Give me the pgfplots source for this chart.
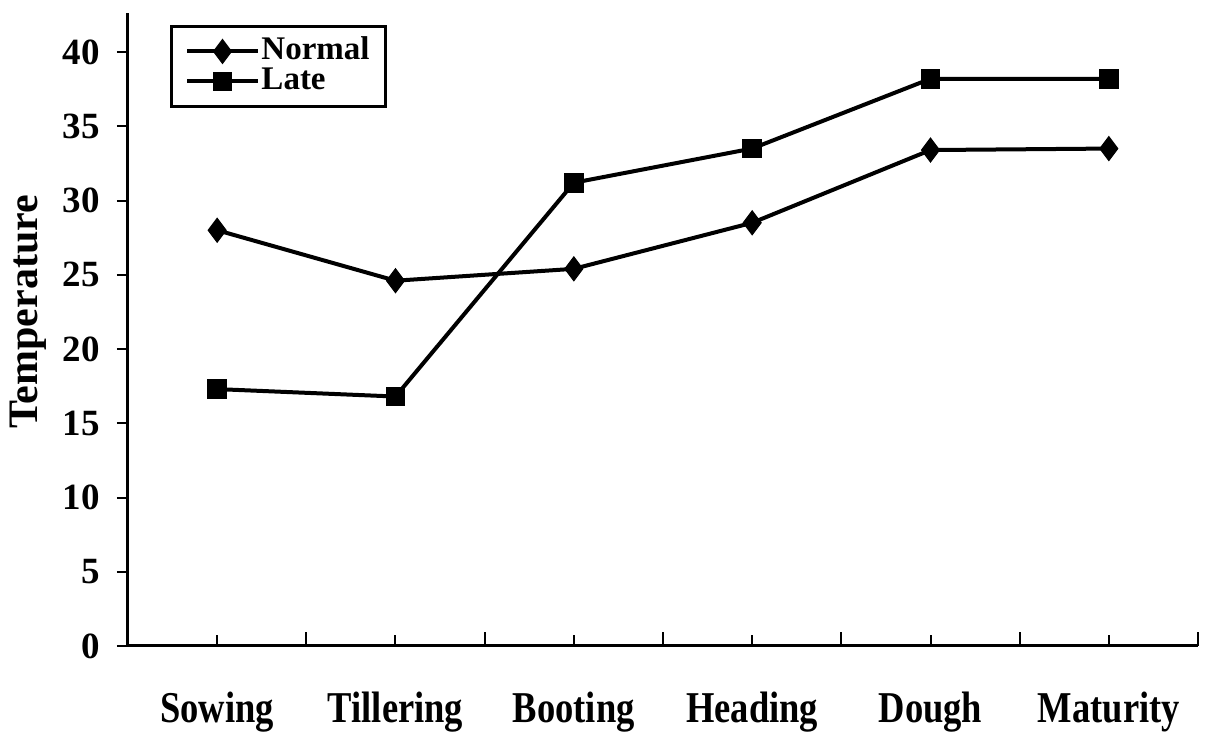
\documentclass[border=0pt]{standalone}
\usepackage{fontspec}
\setmainfont{Liberation Serif}
\newfontfamily\condfont[FakeStretch=0.83]{Liberation Serif}
\usepackage{pgfplots}
\pgfplotsset{compat=1.18}
\begin{document}
\begin{tikzpicture}
\useasboundingbox (-64pt,-43pt) rectangle (539pt,323pt);
\begin{axis}[
    at={(0pt,0pt)}, anchor=south west,
    scale only axis,
    width=535pt, height=316.5pt,
    xmin=-0.5, xmax=5.5,
    ymin=0, ymax=42.63,
    axis x line=bottom, axis y line=left,
    axis line style={-, line width=1.5pt},
    xtick={0,1,2,3,4,5},
    xticklabels={Sowing,Tillering,Booting,Heading,Dough,Maturity},
    extra x ticks={-0.5,0.5,1.5,2.5,3.5,4.5,5.5},
    extra x tick labels={},
    extra x tick style={major tick length=7pt},
    ytick={0,5,...,40},
    tick align=inside,
    major tick length=5.5pt,
    tick style={line width=1pt, black},
    ytick style={xshift=-5.5pt},
    /pgf/number format/assume math mode=true,
    yticklabel style={font=\bfseries\fontsize{18.5}{20}\selectfont, inner sep=0pt, xshift=-14pt},
    xticklabel style={font=\condfont\bfseries\fontsize{22}{24}\selectfont, anchor=base, yshift=-38.5pt},
    ylabel={Temperature},
    ylabel style={font=\bfseries\fontsize{21}{24}\selectfont, at={(axis description cs:-0.0935,0.528)}, anchor=center, rotate=0},
    legend style={at={(axis description cs:0,1)}, anchor=north west, xshift=21pt, yshift=-6pt,
        draw=black, line width=1.5pt, inner xsep=7pt, inner ysep=5pt,
        font=\bfseries\fontsize{16.5}{18}\selectfont,
        nodes={inner sep=1pt, text height=10.5pt, text depth=2.5pt},
        row sep=0pt},
    legend cell align=left,
    legend image code/.code={\draw[#1, mark repeat=2, mark phase=2] plot coordinates {(0pt,0pt)(17.5pt,0pt)(35pt,0pt)};},
]
\addplot[black, line width=2pt, mark=diamond*, mark size=6pt, mark options={solid, line width=0.5pt}]
  coordinates {(0,28.0)(1,24.6)(2,25.4)(3,28.5)(4,33.4)(5,33.5)};
\addlegendentry{Normal}
\addplot[black, line width=2pt, mark=square*, mark size=4.6pt, mark options={solid, line width=0.6pt}]
  coordinates {(0,17.3)(1,16.8)(2,31.2)(3,33.5)(4,38.2)(5,38.2)};
\addlegendentry{Late}
\end{axis}
\end{tikzpicture}
\end{document}
